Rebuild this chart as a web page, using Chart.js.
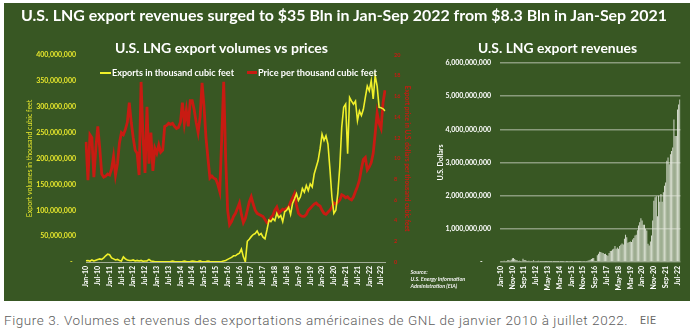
<!DOCTYPE html>
<html>
<head>
<meta charset="utf-8">
<script src="https://cdn.jsdelivr.net/npm/chart.js@4.4.1/dist/chart.umd.min.js"></script>
<style>
  html, body { margin: 0; padding: 0; background: #fff; width: 697px; height: 332px; overflow: hidden; }
  #panel { position: absolute; left: 4px; top: 3px; width: 686px; height: 298px; background: #385723; }
  .t { position: absolute; white-space: nowrap; font-family: Lato, sans-serif; transform-origin: 0 0; line-height: 1; }
  canvas { position: absolute; top: 0; }
  .swatch { position: absolute; }
  #caption { position: absolute; left: 4px; top: 313.5px; font-family: Roboto, sans-serif; font-size: 13.5px; font-weight: 300; line-height: 1; color: #5c5c5c; white-space: nowrap; letter-spacing: 0.57px; }
  #credit { position: absolute; left: 640px; top: 315.5px; font-family: Roboto, sans-serif; font-size: 10.5px; line-height: 1; color: #666; letter-spacing: 0.6px; }
</style>
</head>
<body>
<div id="panel">
  <canvas id="volPrice" width="416" height="298" style="left:0"></canvas>
  <canvas id="revenue" width="270" height="298" style="left:416px"></canvas>

  <div class="t" id="mainTitle" data-w="646" style="left:17px; top:3.5px; font-size:16px; font-weight:bold; color:#fff;">U.S. LNG export revenues surged to $35 Bln in Jan-Sep 2022 from $8.3 Bln in Jan-Sep 2021</div>
  <div class="t" id="leftTitle" data-w="213" style="left:111px; top:38.8px; font-size:13px; font-weight:bold; color:#fff;">U.S. LNG export volumes vs prices</div>
  <div class="t" id="rightTitle" data-w="159" style="left:474px; top:38.8px; font-size:13px; font-weight:bold; color:#fff;">U.S. LNG export revenues</div>

  <div class="swatch" style="left:96px; top:68.5px; width:11px; height:2px; background:#f0f02a;"></div>
  <div class="t" data-w="122" style="left:108px; top:64.7px; font-size:9px; font-weight:bold; color:#fff;">Exports in thousand cubic feet</div>
  <div class="swatch" style="left:242.5px; top:68px; width:10px; height:3px; background:#c81b12;"></div>
  <div class="t" data-w="119" style="left:253.5px; top:64.7px; font-size:9px; font-weight:bold; color:#fff;">Price per thousand cubic feet</div>

  <div class="t" style="left:406.5px; top:265.5px; font-size:5.5px; line-height:7px; font-style:italic; font-weight:bold; color:#f2f2f2;">Source:<br>U.S. Energy Information<br>Administration (EIA)</div>
</div>
<div id="caption">Figure 3. Volumes et revenus des exportations américaines de GNL de janvier 2010 à juillet 2022.</div>
<div id="credit">EIE</div>

<script>
// Monthly U.S. LNG exports, January 2010 to September 2022

// Export volumes, thousand cubic feet (millions)
const exportVolumesMillions = [
  2.5, 3, 1.5, 4, 2, 3.5, 5, 6, 5, 8, 12, 15,             // 2010
  14, 8, 6, 4, 5, 3, 2, 10, 6, 4, 3, 3,                   // 2011
  4, 2, 3, 2, 3, 1.5, 2, 2, 5, 2, 1.5, 0.5,               // 2012
  0.5, 0.5, 0.5, 0.5, 0.5, 0.5, 0.5, 1, 2, 1, 0.5, 0.5,   // 2013
  0.5, 1, 2, 1, 0.5, 1, 2, 1.5, 0.5, 1, 2, 0.5,           // 2014
  0.5, 1, 2, 1, 0.5, 0.5, 0.5, 0.5, 0.5, 1, 2, 3,         // 2015
  5, 7, 9, 12, 12, 15, 17, 25, 10, 0.5, 40, 44,           // 2016
  49, 53, 55, 60, 52, 55, 48, 45, 62, 81, 78, 84,         // 2017
  80, 94, 86, 90, 78, 97, 100, 106, 92, 113, 122, 132,    // 2018
  119, 126, 142, 135, 148, 138, 151, 145, 170, 183, 196, 219, // 2019
  247, 235, 244, 228, 180, 126, 94, 100, 132, 183, 260, 299,  // 2020
  305, 209, 318, 311, 305, 311, 273, 292, 283, 295, 318, 340, // 2021
  331, 350, 315, 360, 340, 299, 298, 296, 292                 // 2022
];

// Export price, U.S. dollars per thousand cubic feet
const exportPrices = [
  11.6, 7.9, 12.3, 12.0, 8.2, 11.0, 13.1, 11.0, 8.5, 8.2, 8.3, 8.5,       // 2010
  8.4, 9.0, 10.2, 8.4, 9.5, 11.5, 12.5, 12.3, 12.8, 13.5, 15.4, 13.5,     // 2011
  12.0, 10.8, 10.5, 8.4, 17.4, 12.0, 8.6, 15.0, 9.5, 12.5, 8.8, 11.0,     // 2012
  10.5, 11.3, 10.6, 10.8, 13.1, 13.2, 13.4, 13.3, 13.4, 13.1, 12.9, 13.0, // 2013
  13.5, 15.4, 13.4, 14.7, 13.1, 15.6, 15.6, 14.7, 13.5, 12.5, 14.0, 17.3, // 2014
  15.0, 12.0, 10.0, 8.1, 8.3, 8.1, 8.0, 7.5, 6.8, 12.0, 17.4, 10.0,       // 2015
  5.0, 3.6, 3.9, 4.4, 4.7, 5.2, 5.7, 4.6, 3.8, 4.2, 5.0, 5.8,             // 2016
  6.3, 5.6, 5.0, 4.7, 4.6, 4.5, 4.4, 4.1, 3.8, 3.9, 4.3, 4.5,             // 2017
  5.0, 5.3, 4.7, 4.9, 5.1, 5.0, 5.2, 5.3, 5.8, 6.2, 6.6, 5.5,             // 2018
  4.7, 4.5, 4.4, 4.4, 4.6, 5.0, 5.2, 5.4, 5.6, 5.7, 5.5, 5.4,             // 2019
  5.0, 4.7, 4.6, 4.8, 5.0, 5.3, 5.7, 5.6, 5.8, 6.0, 6.5, 6.4,             // 2020
  6.2, 6.3, 6.1, 6.0, 6.3, 6.8, 7.3, 7.9, 9.0, 9.9, 10.1, 8.9,            // 2021
  9.2, 9.6, 10.5, 12.4, 14.4, 13.4, 12.9, 15.4, 16.6                      // 2022
];

// Export revenues, U.S. dollars (billions)
const exportRevenuesBillions = [
  0.02, 0.03, 0.02, 0.04, 0.02, 0.03, 0.05, 0.06, 0.04, 0.07, 0.11, 0.12,  // 2010
  0.09, 0.06, 0.05, 0.03, 0.04, 0.03, 0.02, 0.10, 0.06, 0.05, 0.04, 0.03,  // 2011
  0.04, 0.02, 0.03, 0.02, 0.05, 0.02, 0.02, 0.03, 0.04, 0.02, 0.01, 0.01,  // 2012
  0.01, 0.01, 0.01, 0.01, 0.01, 0.01, 0.01, 0.01, 0.02, 0.01, 0.01, 0.01,  // 2013
  0.01, 0.01, 0.02, 0.01, 0.01, 0.01, 0.02, 0.02, 0.01, 0.01, 0.02, 0.01,  // 2014
  0.01, 0.01, 0.02, 0.01, 0.01, 0.01, 0.01, 0.01, 0.01, 0.02, 0.03, 0.03,  // 2015
  0.02, 0.03, 0.04, 0.05, 0.07, 0.09, 0.11, 0.12, 0.04, 0.01, 0.20, 0.25,  // 2016
  0.31, 0.30, 0.28, 0.27, 0.24, 0.25, 0.21, 0.19, 0.27, 0.33, 0.34, 0.38,  // 2017
  0.40, 0.48, 0.40, 0.44, 0.40, 0.48, 0.52, 0.56, 0.53, 0.70, 0.82, 0.75,  // 2018
  0.58, 0.60, 0.62, 0.60, 0.68, 0.72, 0.80, 0.82, 0.96, 1.10, 1.20, 1.32,  // 2019
  1.25, 1.12, 1.12, 1.00, 0.95, 0.55, 0.50, 0.62, 0.80, 1.25, 1.85, 1.95,  // 2020
  1.98, 1.38, 2.00, 1.82, 2.05, 1.82, 2.10, 2.30, 2.40, 3.05, 3.15, 2.95,  // 2021
  3.25, 3.35, 3.45, 4.30, 3.80, 3.80, 4.60, 4.75, 4.90                     // 2022
];

const monthNames = ['Jan', 'Feb', 'Mar', 'Apr', 'May', 'Jun', 'Jul', 'Aug', 'Sep', 'Oct', 'Nov', 'Dec'];
const firstYear = 2010;
const months = exportPrices.map((_, i) =>
  monthNames[i % 12] + '-' + String(firstYear + Math.floor(i / 12)).slice(2));

const exportVolumes = exportVolumesMillions.map(v => v * 1e6);
const exportRevenues = exportRevenuesBillions.map(v => v * 1e9);

const YELLOW = '#f0f02a';
const YELLOW_TEXT = '#e6e62c';
const RED = '#c81b12';
const WHITE = '#ffffff';

Chart.defaults.font.family = 'Lato, sans-serif';

const fmt = v => v.toLocaleString('en-US');

// Volumes (left axis) against prices (right axis)
new Chart(document.getElementById('volPrice'), {
  type: 'line',
  data: {
    labels: months,
    datasets: [
      { label: 'Exports in thousand cubic feet', data: exportVolumes, yAxisID: 'yVol',
        borderColor: YELLOW, borderWidth: 1.6, pointRadius: 0, tension: 0 },
      { label: 'Price per thousand cubic feet', data: exportPrices, yAxisID: 'yPrice',
        borderColor: RED, borderWidth: 2.8, pointRadius: 0, tension: 0 }
    ]
  },
  options: {
    responsive: false, animation: false, devicePixelRatio: 1,
    layout: { padding: { left: 0, right: 5, top: 52, bottom: 0 } },
    plugins: { legend: { display: false }, tooltip: { enabled: false } },
    scales: {
      x: {
        offset: false,
        grid: { display: false, drawTicks: false },
        border: { display: true, color: 'rgba(190,196,182,0.8)', width: 1 },
        ticks: { autoSkip: false, minRotation: 90, maxRotation: 90, padding: 4, color: WHITE,
                 font: { size: 7, weight: 'bold' },
                 callback: (v, i) => (i % 6 === 0 ? months[i] : null) },
        afterFit: s => { s.height = 39; }
      },
      yVol: {
        position: 'left', min: 0, max: 400e6,
        grid: { display: false, drawTicks: false }, border: { display: false },
        ticks: { stepSize: 50e6, padding: 10, color: YELLOW_TEXT, font: { size: 7, weight: 'bold' },
                 callback: v => (v === 0 ? '-  ' : fmt(v)) },
        title: { display: true, text: 'Export volumes in thousand cubic feet', color: YELLOW_TEXT,
                 font: { size: 7 }, padding: { top: 22, bottom: 0 } },
        afterFit: s => { s.width = 82; }
      },
      yPrice: {
        position: 'right', min: 0, max: 20,
        grid: { display: false, drawTicks: false }, border: { display: false },
        ticks: { stepSize: 2, padding: 9, color: RED, font: { size: 5.5, weight: 'bold' } },
        title: { display: true, text: 'Export price in U.S. dollars per thousand cubic feet', color: RED,
                 font: { size: 6.5, weight: 'bold' }, padding: { top: 4, bottom: 0 } },
        afterFit: s => { s.width = 30; }
      }
    }
  }
});

// Monthly export revenues
new Chart(document.getElementById('revenue'), {
  type: 'bar',
  data: {
    labels: months,
    datasets: [{ label: 'Export revenues', data: exportRevenues, backgroundColor: '#e6eadf',
                 borderWidth: 0, barPercentage: 0.75, categoryPercentage: 1 }]
  },
  options: {
    responsive: false, animation: false, devicePixelRatio: 1,
    layout: { padding: { left: 0, right: 8, top: 60, bottom: 0 } },
    plugins: { legend: { display: false }, tooltip: { enabled: false } },
    scales: {
      x: {
        grid: { display: false, drawTicks: false }, border: { display: false },
        ticks: { autoSkip: false, minRotation: 90, maxRotation: 90, padding: 4, color: WHITE,
                 font: { size: 7, weight: 'bold' },
                 callback: (v, i) => (i % 10 === 0 ? months[i] : null) },
        afterFit: s => { s.height = 39; }
      },
      y: {
        min: 0, max: 6e9,
        grid: { color: 'rgba(205,212,198,0.55)', lineWidth: 1.5, drawTicks: false }, border: { display: false },
        ticks: { stepSize: 1e9, padding: 9, color: WHITE, font: { size: 7, weight: 'bold' },
                 callback: v => (v === 0 ? '-     ' : fmt(v)) },
        title: { display: true, text: 'U.S. Dollars', color: WHITE, font: { size: 7, weight: 'bold' },
                 padding: { top: 17, bottom: 0 } },
        afterFit: s => { s.width = 80; }
      }
    }
  }
});

// Squeeze or stretch headings to their set widths
function fitTexts() {
  document.querySelectorAll('[data-w]').forEach(el => {
    el.style.transform = 'none';
    const range = document.createRange();
    range.selectNodeContents(el);
    const w = range.getBoundingClientRect().width;
    const target = parseFloat(el.dataset.w);
    if (w > 0) el.style.transform = 'scaleX(' + (target / w) + ')';
  });
}
fitTexts();
if (document.fonts && document.fonts.ready) document.fonts.ready.then(fitTexts);
</script>
</body>
</html>
